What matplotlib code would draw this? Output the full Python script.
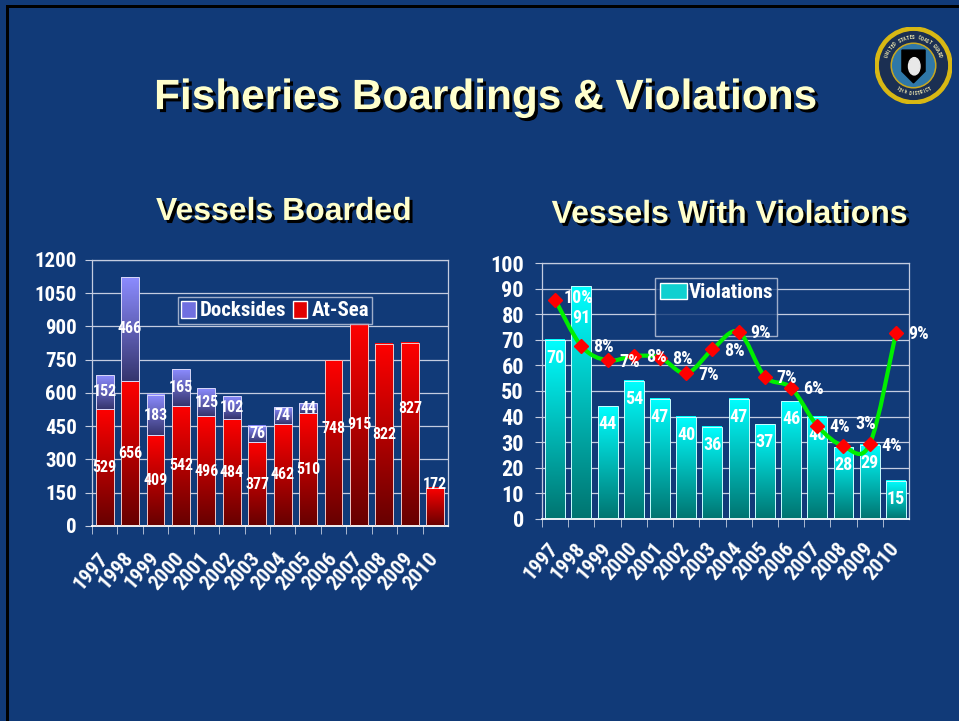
#!/usr/bin/env python3
"""Fisheries boardings & violations slide, redrawn with matplotlib."""

import numpy as np
import matplotlib
matplotlib.use("Agg")
import matplotlib.pyplot as plt
import matplotlib.patches as mpatches
import matplotlib.patheffects as pe
from matplotlib.path import Path
from matplotlib.colors import LinearSegmentedColormap

# Data
years = ["1997", "1998", "1999", "2000", "2001", "2002", "2003",
         "2004", "2005", "2006", "2007", "2008", "2009", "2010"]
at_sea = [529, 656, 409, 542, 496, 484, 377, 462, 510, 748, 915, 822, 827, 172]
docksides = [152, 466, 183, 165, 125, 102, 76, 74, 44, 0, 0, 0, 0, 0]
violations = [70, 91, 44, 54, 47, 40, 36, 47, 37, 46, 40, 28, 29, 15]

# Style
BG = "#113a78"
CREAM = "#ffffcc"
GRID = "#c4cce0"
TITLE_FONT = ["Liberation Sans", "DejaVu Sans"]
plt.rcParams["font.family"] = ["Roboto Condensed", "Liberation Sans", "DejaVu Sans"]
plt.rcParams["font.weight"] = "bold"

shadow = [pe.withSimplePatchShadow(offset=(2.2, -2.2), shadow_rgbFace="black", alpha=1.0)]


def gradient_bars(ax, bars, bottom_color, top_color):
    """Paint each bar with a vertical gradient (dark at bottom, bright at top)."""
    cmap = LinearSegmentedColormap.from_list("g", [bottom_color, top_color])
    grad = np.linspace(0, 1, 256).reshape(-1, 1)
    for b in bars:
        h = b.get_height()
        if h <= 0:
            b.set_visible(False)
            continue
        x, y, w = b.get_x(), b.get_y(), b.get_width()
        ax.imshow(grad, cmap=cmap, origin="lower", aspect="auto",
                  extent=(x, x + w, y, y + h), zorder=2, interpolation="bicubic")
        b.set_facecolor("none")
        b.set_zorder(3)


def style_axes(ax, label_pad):
    ax.set_facecolor("none")
    ax.set_axisbelow(True)
    ax.grid(axis="y", color=GRID, lw=0.9)
    for s in ax.spines.values():
        s.set_color(GRID)
        s.set_linewidth(0.9)
    ax.spines["bottom"].set_color("white")
    ax.spines["bottom"].set_linewidth(1.3)
    ax.tick_params(axis="y", colors=GRID, labelcolor="white", labelsize=15,
                   length=5, pad=6)
    ax.tick_params(axis="x", which="major", length=0, labelcolor="white",
                   labelsize=15, pad=label_pad)
    ax.tick_params(axis="x", which="minor", colors=GRID, length=6)
    ax.set_xticks(np.arange(len(years)) - 0.5, minor=True)
    ax.set_xticks(np.arange(len(years)))
    ax.set_xticklabels(years, rotation=49, ha="right", va="center",
                       rotation_mode="anchor")
    for lab in ax.get_xticklabels() + ax.get_yticklabels():
        lab.set_fontweight("bold")
    ax.set_xlim(-0.5, len(years) - 0.5)


fig = plt.figure(figsize=(9.59, 7.21), dpi=100, facecolor=BG)

# slide outline (top and left edges visible)
fig.add_artist(mpatches.Rectangle((6 / 959, 0), 3 / 959, 716 / 721,
                                  transform=fig.transFigure, color="black", lw=0))
fig.add_artist(mpatches.Rectangle((6 / 959, 713 / 721), 953 / 959, 3 / 721,
                                  transform=fig.transFigure, color="black", lw=0))

# titles
fig.text(0.507, 0.864, "Fisheries Boardings & Violations", ha="center", va="center",
         fontsize=30.5, color=CREAM, fontweight="bold", family=TITLE_FONT,
         path_effects=shadow)
fig.text(0.296, 0.706, "Vessels Boarded", ha="center", va="center",
         fontsize=23, color=CREAM, fontweight="bold", family=TITLE_FONT,
         path_effects=shadow)
fig.text(0.761, 0.702, "Vessels With Violations", ha="center", va="center",
         fontsize=23, color=CREAM, fontweight="bold", family=TITLE_FONT,
         path_effects=shadow)

# ---- left chart: vessels boarded ----
ax1 = fig.add_axes([0.0959, 0.2705, 0.3712, 0.3689])
x = np.arange(len(years))
b_sea = ax1.bar(x, at_sea, width=0.70, edgecolor="#f0c8c8", linewidth=0.7)
b_dock = ax1.bar(x, docksides, width=0.70, bottom=at_sea,
                 edgecolor="#d8d8f8", linewidth=0.7)
gradient_bars(ax1, b_sea, "#660000", "#ff0000")
gradient_bars(ax1, b_dock, "#35356e", "#8c8cff")
ax1.set_ylim(0, 1200)
ax1.set_yticks(np.arange(0, 1201, 150))
style_axes(ax1, 21)

# labels: centred in each segment (a few nudged as on the slide)
sea_nudge = {9: 68, 12: 118, 13: 100}
for i, v in enumerate(at_sea):
    ax1.text(i, v / 2 + sea_nudge.get(i, 0), str(v), ha="center", va="center",
             color="white", fontsize=11.5, fontweight="bold", zorder=5)
for i, v in enumerate(docksides):
    if v > 0:
        ax1.text(i, at_sea[i] + v / 2, str(v), ha="center", va="center",
                 color="white", fontsize=11.5, fontweight="bold", zorder=5)

leg1 = ax1.legend(handles=[mpatches.Patch(facecolor="#7070e0", edgecolor="white", label="Docksides"),
                           mpatches.Patch(facecolor="#e00000", edgecolor="white", label="At-Sea")],
                  loc="center", bbox_to_anchor=(0.514, 0.81), ncol=2, fontsize=15,
                  frameon=True, fancybox=False, handlelength=0.7, handleheight=0.9,
                  handletextpad=0.2, columnspacing=0.3, borderpad=0.15)
leg1.get_frame().set_facecolor(BG)
leg1.get_frame().set_edgecolor(GRID)
for t in leg1.get_texts():
    t.set_color("white")
    t.set_fontweight("bold")

# ---- right chart: vessels with violations ----
ax2 = fig.add_axes([0.5652, 0.2802, 0.3827, 0.355])
b_vio = ax2.bar(x, violations, width=0.76, edgecolor="#c8ffff", linewidth=0.7)
gradient_bars(ax2, b_vio, "#007470", "#00ffff")
ax2.set_ylim(0, 100)
ax2.set_yticks(np.arange(0, 101, 10))
style_axes(ax2, 19)
ax2.tick_params(axis="y", labelsize=16, pad=8)

for i, v in enumerate(violations):
    dy = -23 if i == 1 else -13
    ax2.annotate(str(v), (i, v), xytext=(0, dy), textcoords="offset points",
                 ha="center", va="center", color="white", fontsize=13,
                 fontweight="bold", zorder=6)

# violation rate on a hidden secondary axis (0-12 %)
rate = [100.0 * v / (a + d) for v, a, d in zip(violations, at_sea, docksides)]
ax3 = ax2.twinx()
ax3.set_ylim(0, 12)
ax3.set_xlim(ax2.get_xlim())
ax3.axis("off")

# smoothed curve through the rates (Catmull-Rom as cubic Bezier)
pts = np.column_stack([x, rate]).astype(float)
verts = [tuple(pts[0])]
codes = [Path.MOVETO]
for i in range(len(pts) - 1):
    p0 = pts[i - 1] if i > 0 else pts[i]
    p1, p2 = pts[i], pts[i + 1]
    p3 = pts[i + 2] if i + 2 < len(pts) else pts[i + 1]
    verts += [tuple(p1 + (p2 - p0) / 6), tuple(p2 - (p3 - p1) / 6), tuple(p2)]
    codes += [Path.CURVE4] * 3
ax3.add_patch(mpatches.PathPatch(Path(verts, codes), facecolor="none",
                                 edgecolor="#00ee00", lw=3, zorder=4))
ax3.plot(x, rate, ls="none", marker="D", ms=7, color="#ff0000", zorder=5)

rate_offsets = {0: (17, 1), 11: (16, 16)}
for i, r in enumerate(rate):
    off = rate_offsets.get(i, (16, -1))
    ax3.annotate(f"{round(r)}%", (i, r), xytext=off, textcoords="offset points",
                 ha="center", va="center", color="white", fontsize=13,
                 fontweight="bold", zorder=7)

leg2 = ax2.legend(handles=[mpatches.Patch(facecolor="#10d0d0", edgecolor="white", label="Violations"),
                           mpatches.Patch(facecolor="none", edgecolor="none", label=" ")],
                  loc="center", bbox_to_anchor=(0.475, 0.828), fontsize=15,
                  frameon=True, fancybox=False, handlelength=1.3, handleheight=0.8,
                  handletextpad=0.1, borderpad=0.2, labelspacing=0.5)
leg2.get_frame().set_facecolor(BG)
leg2.get_frame().set_edgecolor(GRID)
for t in leg2.get_texts():
    t.set_color("white")
    t.set_fontweight("bold")

# ---- Coast Guard seal (simplified) ----
axs = fig.add_axes([875 / 959, 1 - 104 / 721, 77 / 959, 77 / 721])
axs.set_xlim(-1, 1)
axs.set_ylim(-1, 1)
axs.set_aspect("equal")
axs.axis("off")
axs.add_patch(mpatches.Circle((0, 0), 1.0, color="#d8b814"))
axs.add_patch(mpatches.Circle((0, 0), 0.88, color="#1b2f52"))
axs.add_patch(mpatches.Circle((0, 0), 0.58, color="#c9a820"))
axs.add_patch(mpatches.Circle((0, 0), 0.54, color="#2f78a8"))
axs.add_patch(mpatches.Polygon([(-0.3, 0.4), (0.3, 0.4), (0.3, -0.15), (0, -0.45), (-0.3, -0.15)],
                               closed=True, color="black"))
axs.add_patch(mpatches.Ellipse((0.02, -0.02), 0.3, 0.45, color="#e8e8e8"))
top_txt = "UNITED STATES COAST GUARD"
for k, ch in enumerate(top_txt):
    ang = np.deg2rad(160 - k * 140 / (len(top_txt) - 1))
    axs.text(0.73 * np.cos(ang), 0.73 * np.sin(ang), ch, rotation=np.rad2deg(ang) - 90,
             ha="center", va="center", fontsize=3.5, color="#f0e8b0", fontweight="bold")
bot_txt = "13th DISTRICT"
for k, ch in enumerate(bot_txt):
    ang = np.deg2rad(235 + k * 70 / (len(bot_txt) - 1))
    axs.text(0.73 * np.cos(ang), 0.73 * np.sin(ang), ch, rotation=np.rad2deg(ang) + 90,
             ha="center", va="center", fontsize=3.5, color="#f0e8b0", fontweight="bold")

fig.savefig("out.png", dpi=100, facecolor=BG)
